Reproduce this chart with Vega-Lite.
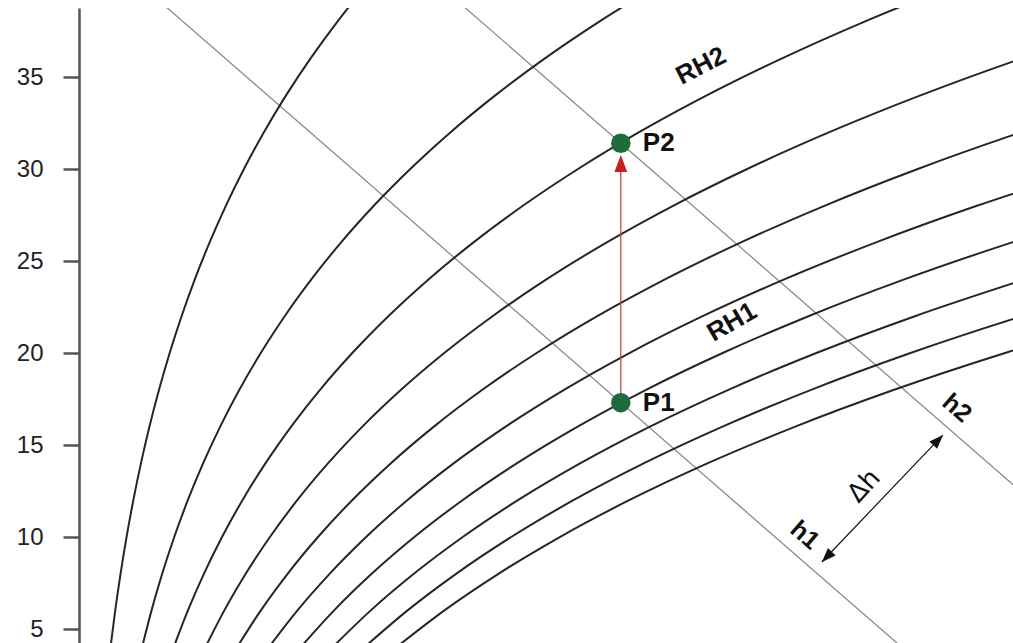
{
  "$schema": "https://vega.github.io/schema/vega-lite/v6.json",
  "width": 934,
  "height": 635,
  "autosize": {"type": "none"},
  "padding": {"left": 79, "top": 8, "right": 0, "bottom": 0},
  "background": "white",
  "config": {"view": {"stroke": null}},
  "encoding": {
    "x": {"field": "x", "type": "quantitative", "scale": {"domain": [0, 14.825], "nice": false, "zero": false}, "axis": null},
    "y": {"field": "t", "type": "quantitative", "scale": {"domain": [4.24, 38.75], "nice": false, "zero": false},
      "axis": {"values": [5, 10, 15, 20, 25, 30, 35], "grid": false, "title": null, "tickSize": 16, "tickWidth": 2.5, "tickColor": "#555555", "domainColor": "#555555", "domainWidth": 2.5, "labelFont": "Liberation Sans", "labelFontSize": 24, "labelColor": "#222222", "labelPadding": 20}}
  },
  "layer": [
    {
      "data": {"values": [
        {"h": "h1", "x": 0, "t": 42.93}, {"h": "h1", "x": 15, "t": -1.77},
        {"h": "h2", "x": 0, "t": 57.03}, {"h": "h2", "x": 15, "t": 12.33}
      ]},
      "mark": {"type": "line", "clip": true, "color": "#8c8c8c", "strokeWidth": 1.3},
      "encoding": {"detail": {"field": "h"}}
    },
    {
      "data": {"values": [
        {"rh": 10, "t": 4, "x": 0.4998}, {"rh": 10, "t": 6, "x": 0.5747}, {"rh": 10, "t": 8, "x": 0.6594}, {"rh": 10, "t": 10, "x": 0.7549}, {"rh": 10, "t": 12, "x": 0.8623}, {"rh": 10, "t": 14, "x": 0.9831}, {"rh": 10, "t": 16, "x": 1.1185}, {"rh": 10, "t": 18, "x": 1.2700}, {"rh": 10, "t": 20, "x": 1.4393}, {"rh": 10, "t": 22, "x": 1.6280}, {"rh": 10, "t": 24, "x": 1.8382}, {"rh": 10, "t": 26, "x": 2.0717}, {"rh": 10, "t": 28, "x": 2.3308}, {"rh": 10, "t": 30, "x": 2.6178}, {"rh": 10, "t": 32, "x": 2.9353}, {"rh": 10, "t": 34, "x": 3.2859}, {"rh": 10, "t": 36, "x": 3.6728}, {"rh": 10, "t": 38, "x": 4.0990}, {"rh": 10, "t": 40, "x": 4.5682},
        {"rh": 20, "t": 4, "x": 1.0004}, {"rh": 20, "t": 6, "x": 1.1504}, {"rh": 20, "t": 8, "x": 1.3202}, {"rh": 20, "t": 10, "x": 1.5116}, {"rh": 20, "t": 12, "x": 1.7271}, {"rh": 20, "t": 14, "x": 1.9694}, {"rh": 20, "t": 16, "x": 2.2411}, {"rh": 20, "t": 18, "x": 2.5453}, {"rh": 20, "t": 20, "x": 2.8853}, {"rh": 20, "t": 22, "x": 3.2646}, {"rh": 20, "t": 24, "x": 3.6873}, {"rh": 20, "t": 26, "x": 4.1573}, {"rh": 20, "t": 28, "x": 4.6792}, {"rh": 20, "t": 30, "x": 5.2579}, {"rh": 20, "t": 32, "x": 5.8984}, {"rh": 20, "t": 34, "x": 6.6067}, {"rh": 20, "t": 36, "x": 7.3892}, {"rh": 20, "t": 38, "x": 8.2524}, {"rh": 20, "t": 40, "x": 9.2040},
        {"rh": 30, "t": 4, "x": 1.5018}, {"rh": 30, "t": 6, "x": 1.7273}, {"rh": 30, "t": 8, "x": 1.9823}, {"rh": 30, "t": 10, "x": 2.2701}, {"rh": 30, "t": 12, "x": 2.5942}, {"rh": 30, "t": 14, "x": 2.9587}, {"rh": 30, "t": 16, "x": 3.3677}, {"rh": 30, "t": 18, "x": 3.8257}, {"rh": 30, "t": 20, "x": 4.3379}, {"rh": 30, "t": 22, "x": 4.9098}, {"rh": 30, "t": 24, "x": 5.5473}, {"rh": 30, "t": 26, "x": 6.2570}, {"rh": 30, "t": 28, "x": 7.0453}, {"rh": 30, "t": 30, "x": 7.9203}, {"rh": 30, "t": 32, "x": 8.8898}, {"rh": 30, "t": 34, "x": 9.9630}, {"rh": 30, "t": 36, "x": 11.1502}, {"rh": 30, "t": 38, "x": 12.4610}, {"rh": 30, "t": 40, "x": 13.9090},
        {"rh": 40, "t": 4, "x": 2.0040}, {"rh": 40, "t": 6, "x": 2.3051}, {"rh": 40, "t": 8, "x": 2.6459}, {"rh": 40, "t": 10, "x": 3.0305}, {"rh": 40, "t": 12, "x": 3.4637}, {"rh": 40, "t": 14, "x": 3.9512}, {"rh": 40, "t": 16, "x": 4.4983}, {"rh": 40, "t": 18, "x": 5.1115}, {"rh": 40, "t": 20, "x": 5.7974}, {"rh": 40, "t": 22, "x": 6.5638}, {"rh": 40, "t": 24, "x": 7.4185}, {"rh": 40, "t": 26, "x": 8.3706}, {"rh": 40, "t": 28, "x": 9.4293}, {"rh": 40, "t": 30, "x": 10.6055}, {"rh": 40, "t": 32, "x": 11.9100}, {"rh": 40, "t": 34, "x": 13.3555}, {"rh": 40, "t": 36, "x": 14.9557}, {"rh": 40, "t": 38, "x": 16.7265},
        {"rh": 50, "t": 4, "x": 2.5070}, {"rh": 50, "t": 6, "x": 2.8841}, {"rh": 50, "t": 8, "x": 3.3109}, {"rh": 50, "t": 10, "x": 3.7927}, {"rh": 50, "t": 12, "x": 4.3357}, {"rh": 50, "t": 14, "x": 4.9469}, {"rh": 50, "t": 16, "x": 5.6331}, {"rh": 50, "t": 18, "x": 6.4025}, {"rh": 50, "t": 20, "x": 7.2636}, {"rh": 50, "t": 22, "x": 8.2264}, {"rh": 50, "t": 24, "x": 9.3008}, {"rh": 50, "t": 26, "x": 10.4985}, {"rh": 50, "t": 28, "x": 11.8320}, {"rh": 50, "t": 30, "x": 13.3133}, {"rh": 50, "t": 32, "x": 14.9588}, {"rh": 50, "t": 34, "x": 16.7844},
        {"rh": 60, "t": 4, "x": 3.0108}, {"rh": 60, "t": 6, "x": 3.4640}, {"rh": 60, "t": 8, "x": 3.9773}, {"rh": 60, "t": 10, "x": 4.5568}, {"rh": 60, "t": 12, "x": 5.2101}, {"rh": 60, "t": 14, "x": 5.9457}, {"rh": 60, "t": 16, "x": 6.7720}, {"rh": 60, "t": 18, "x": 7.6989}, {"rh": 60, "t": 20, "x": 8.7368}, {"rh": 60, "t": 22, "x": 9.8978}, {"rh": 60, "t": 24, "x": 11.1942}, {"rh": 60, "t": 26, "x": 12.6406}, {"rh": 60, "t": 28, "x": 14.2517}, {"rh": 60, "t": 30, "x": 16.0451},
        {"rh": 70, "t": 4, "x": 3.5154}, {"rh": 70, "t": 6, "x": 4.0452}, {"rh": 70, "t": 8, "x": 4.6451}, {"rh": 70, "t": 10, "x": 5.3228}, {"rh": 70, "t": 12, "x": 6.0869}, {"rh": 70, "t": 14, "x": 6.9477}, {"rh": 70, "t": 16, "x": 7.9150}, {"rh": 70, "t": 18, "x": 9.0005}, {"rh": 70, "t": 20, "x": 10.2169}, {"rh": 70, "t": 22, "x": 11.5781}, {"rh": 70, "t": 24, "x": 13.0993}, {"rh": 70, "t": 26, "x": 14.7984}, {"rh": 70, "t": 28, "x": 16.6909},
        {"rh": 80, "t": 4, "x": 4.0208}, {"rh": 80, "t": 6, "x": 4.6274}, {"rh": 80, "t": 8, "x": 5.3144}, {"rh": 80, "t": 10, "x": 6.0907}, {"rh": 80, "t": 12, "x": 6.9662}, {"rh": 80, "t": 14, "x": 7.9529}, {"rh": 80, "t": 16, "x": 9.0621}, {"rh": 80, "t": 18, "x": 10.3077}, {"rh": 80, "t": 20, "x": 11.7039}, {"rh": 80, "t": 22, "x": 13.2679}, {"rh": 80, "t": 24, "x": 15.0157},
        {"rh": 90, "t": 4, "x": 4.5271}, {"rh": 90, "t": 6, "x": 5.2106}, {"rh": 90, "t": 8, "x": 5.9852}, {"rh": 90, "t": 10, "x": 6.8604}, {"rh": 90, "t": 12, "x": 7.8480}, {"rh": 90, "t": 14, "x": 8.9614}, {"rh": 90, "t": 16, "x": 10.2137}, {"rh": 90, "t": 18, "x": 11.6200}, {"rh": 90, "t": 20, "x": 13.1980}, {"rh": 90, "t": 22, "x": 14.9660}, {"rh": 90, "t": 24, "x": 16.9438},
        {"rh": 100, "t": 4, "x": 5.0342}, {"rh": 100, "t": 6, "x": 5.7950}, {"rh": 100, "t": 8, "x": 6.6573}, {"rh": 100, "t": 10, "x": 7.6320}, {"rh": 100, "t": 12, "x": 8.7322}, {"rh": 100, "t": 14, "x": 9.9731}, {"rh": 100, "t": 16, "x": 11.3692}, {"rh": 100, "t": 18, "x": 12.9378}, {"rh": 100, "t": 20, "x": 14.6991}, {"rh": 100, "t": 22, "x": 16.6731}
      ]},
      "mark": {"type": "line", "clip": true, "color": "#262626", "strokeWidth": 2, "interpolate": "monotone"},
      "encoding": {"detail": {"field": "rh"}}
    },
    {
      "data": {"values": [{"x": 11.79, "t": 8.64, "x2": 13.71, "t2": 15.54}]},
      "mark": {"type": "rule", "color": "#111111", "strokeWidth": 1.2},
      "encoding": {"x2": {"field": "x2"}, "y2": {"field": "t2"}}
    },
    {
      "data": {"values": [{"x": 13.637, "t": 15.27}]},
      "mark": {"type": "point", "shape": "M-0.75,1L0.75,1L0,-1Z", "filled": true, "opacity": 1, "color": "#111111", "size": 200, "angle": 43.6}
    },
    {
      "data": {"values": [{"x": 11.871, "t": 8.92}]},
      "mark": {"type": "point", "shape": "M-0.75,1L0.75,1L0,-1Z", "filled": true, "opacity": 1, "color": "#111111", "size": 200, "angle": 223.6}
    },
    {
      "data": {"values": [{"x": 8.6, "t": 17.3, "t2": 30.4}]},
      "mark": {"type": "rule", "color": "#b04040", "strokeWidth": 1.2},
      "encoding": {"y2": {"field": "t2"}}
    },
    {
      "data": {"values": [{"x": 8.6, "t": 30.3}]},
      "mark": {"type": "point", "shape": "M-0.75,1L0.75,1L0,-1Z", "filled": true, "opacity": 1, "color": "#c81e1e", "size": 290}
    },
    {
      "data": {"values": [{"label": "P1", "x": 8.6, "t": 17.3}, {"label": "P2", "x": 8.6, "t": 31.4}]},
      "layer": [
        {"mark": {"type": "circle", "size": 380, "opacity": 1, "color": "#1e6b3e"}},
        {"mark": {"type": "text", "align": "left", "baseline": "middle", "dx": 22, "fontSize": 26, "fontWeight": "bold", "font": "Liberation Sans", "color": "#111111"},
         "encoding": {"text": {"field": "label"}}}
      ]
    },
    {
      "data": {"values": [{"label": "RH2", "x": 9.873, "t": 35.6}]},
      "mark": {"type": "text", "align": "center", "baseline": "middle", "angle": 333, "fontSize": 26, "fontWeight": "bold", "font": "Liberation Sans", "color": "#111111"},
      "encoding": {"text": {"field": "label"}}
    },
    {
      "data": {"values": [{"label": "RH1", "x": 10.365, "t": 21.68}]},
      "mark": {"type": "text", "align": "center", "baseline": "middle", "angle": 330, "fontSize": 26, "fontWeight": "bold", "font": "Liberation Sans", "color": "#111111"},
      "encoding": {"text": {"field": "label"}}
    },
    {
      "data": {"values": [{"label": "h1", "x": 11.524, "t": 10.11}, {"label": "h2", "x": 13.937, "t": 17.01}]},
      "mark": {"type": "text", "align": "center", "baseline": "middle", "angle": 41, "fontSize": 25, "fontWeight": "bold", "font": "Liberation Sans", "color": "#111111"},
      "encoding": {"text": {"field": "label"}}
    },
    {
      "data": {"values": [{"label": "Δh", "x": 12.46, "t": 12.77}]},
      "mark": {"type": "text", "align": "center", "baseline": "middle", "angle": 312, "fontSize": 26, "font": "DejaVu Sans", "color": "#111111"},
      "encoding": {"text": {"field": "label"}}
    }
  ]
}
